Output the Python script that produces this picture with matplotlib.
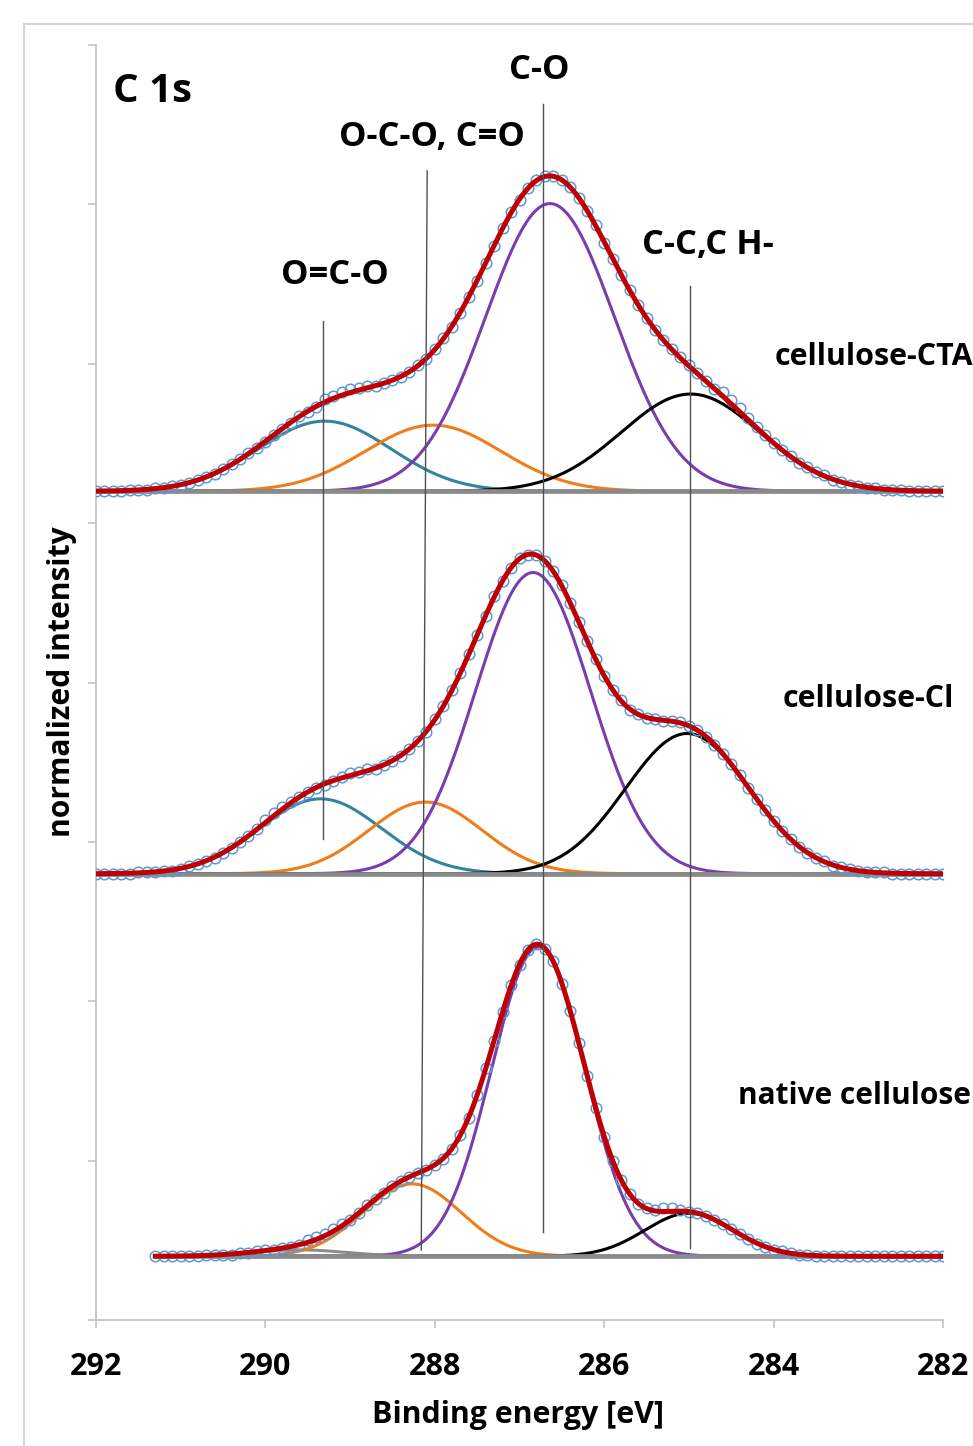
import numpy as np
import matplotlib
matplotlib.use("Agg")
import matplotlib.pyplot as plt
from matplotlib.lines import Line2D

# ---------------- data ----------------
samples = ["cellulose-CTA", "cellulose-Cl", "native cellulose"]
offsets = [5.2, 2.8, 0.4]

# measured points (binding energy step 0.1 eV), intensity above baseline x100
cta_energy = np.round(np.linspace(292.0, 282.0, 101), 1)
cta_points = np.array([
    0, 0, 0, 0, 1, 1, 1, 2, 2, 3,
    4, 5, 7, 9, 11, 14, 17, 20, 24, 27,
    31, 35, 39, 43, 47, 50, 53, 58, 60, 62,
    64, 65, 66, 66, 68, 70, 72, 75, 79, 83,
    89, 96, 103, 112, 122, 132, 143, 154, 165, 175,
    183, 190, 195, 198, 198, 195, 191, 184, 176, 167,
    156, 146, 136, 126, 117, 109, 101, 95, 89, 84,
    79, 74, 69, 64, 62, 57, 52, 46, 40, 35,
    30, 26, 22, 18, 15, 12, 10, 7, 6, 4,
    3, 2, 2, 1, 1, 1, 0, 0, 0, 0,
    0]) / 100

cl_energy = np.round(np.linspace(292.0, 282.0, 101), 1)
cl_points = np.array([
    0, 0, 0, 0, 0, 1, 1, 1, 2, 2,
    3, 5, 6, 8, 10, 13, 16, 20, 24, 28,
    34, 38, 42, 45, 48, 51, 54, 56, 58, 61,
    63, 64, 66, 66, 68, 71, 74, 78, 83, 89,
    97, 105, 115, 126, 138, 150, 162, 174, 184, 192,
    198, 200, 200, 196, 190, 181, 170, 158, 146, 135,
    124, 115, 109, 103, 100, 98, 97, 96, 96, 95,
    93, 90, 86, 81, 75, 69, 62, 54, 47, 40,
    33, 27, 22, 17, 13, 10, 8, 5, 4, 3,
    2, 1, 1, 1, 0, 0, 0, 0, 0, 0,
    0]) / 100

nat_energy = np.round(np.linspace(291.3, 282.0, 94), 1)
nat_points = np.array([
    0, 0, 0, 0, 0, 0, 1, 1, 1, 1,
    2, 2, 3, 4, 4, 5, 6, 7, 10, 12,
    14, 17, 20, 23, 27, 32, 36, 40, 44, 47,
    50, 52, 54, 57, 61, 67, 76, 87, 101, 118,
    135, 153, 170, 183, 192, 196, 193, 185, 171, 154,
    134, 113, 93, 75, 60, 48, 39, 33, 30, 29,
    30, 30, 29, 28, 27, 25, 23, 20, 17, 14,
    11, 8, 6, 4, 3, 2, 1, 1, 0, 0,
    0, 0, 0, 0, 0, 0, 0, 0, 0, 0,
    0, 0, 0, 0]) / 100

comp_names = ["O=C-O", "O-C-O, C=O", "C-O", "C-C,C H-"]
# fitted Gaussian components: center [eV], height, sigma [eV]
cta_centers = [289.30, 288.02, 286.64, 284.98]
cta_heights = [0.44, 0.415, 1.805, 0.61]
cta_sigmas = [0.78, 0.80, 0.76, 0.82]

cl_centers = [289.35, 288.11, 286.84, 285.02]
cl_heights = [0.47, 0.45, 1.89, 0.88]
cl_sigmas = [0.72, 0.67, 0.68, 0.73]

nat_centers = [289.60, 288.27, 286.78, 285.00]
nat_heights = [0.04, 0.454, 1.94, 0.27]
nat_sigmas = [0.55, 0.58, 0.55, 0.52]

x_ticks = [292, 290, 288, 286, 284, 282]

# reference lines: (energy top, energy bottom, y top, y bottom)
ref_lines = [
    (289.32, 289.32, 6.27, 3.02),
    (288.09, 288.16, 7.21, 0.44),
    (286.725, 286.725, 7.63, 0.55),
    (284.99, 284.99, 6.49, 0.45),
]

# ---------------- styles ----------------
comp_colors_full = ["#31859C", "#EE7D1A", "#7A3DAF", "#000000"]
comp_colors_nat = ["#8C8C8C", "#EE7D1A", "#7A3DAF", "#000000"]

W, H = 973, 1446
fig = plt.figure(figsize=(W / 100, H / 100), dpi=100)
ax = fig.add_axes([96 / W, 1 - 1320 / H, (943 - 96) / W, (1320 - 45) / H])

FONT = "Open Sans"


def gauss(e, c, h, s):
    return h * np.exp(-((e - c) ** 2) / (2 * s ** 2))


spectra = [
    (cta_centers, cta_heights, cta_sigmas, comp_colors_full, cta_energy, cta_points),
    (cl_centers, cl_heights, cl_sigmas, comp_colors_full, cl_energy, cl_points),
    (nat_centers, nat_heights, nat_sigmas, comp_colors_nat, nat_energy, nat_points),
]

for (cs, hs, ss, cols, ep, pts), off in zip(spectra, offsets):
    e = np.linspace(ep[0], ep[-1], 700)
    total = np.zeros_like(e)
    for c, h, s, col in zip(cs, hs, ss, cols):
        g = gauss(e, c, h, s)
        total += g
        ax.plot(e, off + g, color=col, lw=2.2, zorder=3)
    ax.plot(e, np.full_like(e, off), color="#8A8A8A", lw=3.4, zorder=3.5,
            solid_capstyle="butt")
    ax.plot(ep, off + pts, linestyle="none", marker="o", mfc="none",
            mec="#5B9BD5", ms=7.6, mew=1.1, zorder=4)
    ax.plot(e, off + total, color="#C00000", lw=3.6, zorder=5)

for et, eb, yt, yb in ref_lines:
    ax.plot([et, eb], [yt, yb], color="#505050", lw=1.0, zorder=6)

ax.set_xlim(292, 282)
ax.set_ylim(0, 8)
ax.set_xticks(x_ticks)
ax.set_xticklabels([str(t) for t in x_ticks], fontfamily=FONT,
                   fontweight="bold", fontsize=22)
ax.set_yticks(np.arange(0, 9, 1))
ax.set_yticklabels([])
for sp in ["top", "right"]:
    ax.spines[sp].set_visible(False)
for sp in ["left", "bottom"]:
    ax.spines[sp].set_color("#BFBFBF")
    ax.spines[sp].set_linewidth(1.2)
ax.tick_params(axis="both", length=6, width=1.1, color="#BFBFBF",
               direction="out")
ax.tick_params(axis="x", pad=17)


def ftext(x, y, s, size, **kw):
    fig.text(x / W, 1 - y / H, s, fontsize=size, fontfamily=FONT,
             fontweight="bold", **kw)


ftext(113, 92, "C 1s", 29, ha="left", va="center")
ftext(539, 70, "C-O", 24.8, ha="center", va="center")
ftext(432, 137, "O-C-O, C=O", 24.8, ha="center", va="center")
ftext(335, 275, "O=C-O", 24.8, ha="center", va="center")
ftext(708, 245, "C-C,C H-", 24.8, ha="center", va="center")
ftext(775, 357, "cellulose-CTA", 21.9, ha="left", va="center")
ftext(783, 699, "cellulose-Cl", 21.9, ha="left", va="center")
ftext(738, 1096, "native cellulose", 21.4, ha="left", va="center")
ftext(62, 682, "normalized intensity", 21.6, ha="center", va="center",
      rotation=90)
ftext(518, 1415, "Binding energy [eV]", 21.9, ha="center", va="center")

# outer frame
fig.add_artist(Line2D([24 / W, 24 / W], [1 - 24 / H, 0], color="#D4D4D4",
                      lw=1.5, transform=fig.transFigure))
fig.add_artist(Line2D([24 / W, 1], [1 - 24 / H, 1 - 24 / H], color="#D4D4D4",
                      lw=1.5, transform=fig.transFigure))

fig.savefig("out.png", dpi=100)
